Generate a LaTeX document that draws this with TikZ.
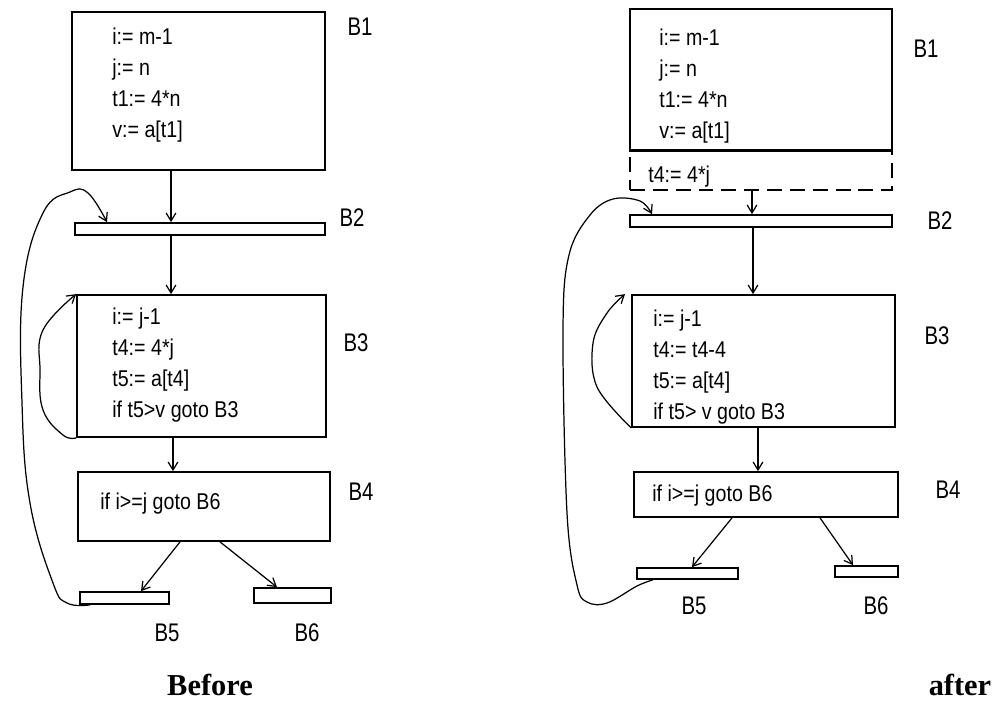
\documentclass[tikz,border=0pt]{standalone}
\usepackage{fontspec}
\setmainfont{Liberation Serif}
\newfontfamily\codefont[FakeStretch=0.86]{Liberation Sans}
\newfontfamily\blockfont[FakeStretch=0.8]{Liberation Sans}
\usetikzlibrary{arrows.meta, fit, calc}

\tikzset{
  blk/.style={draw, inner sep=0pt, line width=1pt},
  code/.style={anchor=north west, inner sep=0pt, align=left, font=\codefont\fontsize{13}{17.5}\selectfont},
  blkname/.style={inner sep=0pt, font=\blockfont\fontsize{14.5}{16}\selectfont},
  caption/.style={inner sep=0pt, font=\bfseries\fontsize{17.3}{20}\selectfont},
  edge/.style={line width=0.7pt, ->},
  >={Straight Barb[length=4.5pt, width=5.5pt]}
}

\begin{document}
\begin{tikzpicture}[x=0.02cm, y=-0.02cm]
\useasboundingbox (0,0) rectangle (994,700);

% before
\node[blk, fit={(72,12) (325,170)}] (b1) {};
\node[blk, fit={(75,223) (325,235)}] (b2) {};
\node[blk, fit={(77,295) (326,437)}] (b3) {};
\node[blk, fit={(78,472) (330,541)}] (b4) {};
\node[blk, fit={(80,592) (169,604)}] (b5) {};
\node[blk, fit={(254,588) (331,603)}] (b6) {};

\node[code] (b1txt) at (112,28) {i:= m-1\\j:= n\\t1:= 4*n\\v:= a[t1]};
\node[code] (b3txt) at (112,308) {i:= j-1\\t4:= 4*j\\t5:= a[t4]\\if t5>v goto B3};
\node[code] (b4txt) at (100,493) {if i>=j goto B6};

\node[blkname] (n1) at (360,27) {B1};
\node[blkname] (n2) at (352,218) {B2};
\node[blkname] (n3) at (356,343) {B3};
\node[blkname] (n4) at (361,492) {B4};
\node[blkname] (n5) at (167,633) {B5};
\node[blkname] (n6) at (307,633) {B6};

\draw[edge] (171,0 |- b1.south) -- (171,0 |- b2.north);
\draw[edge] (171,0 |- b2.south) -- (171,0 |- b3.north);
\draw[edge] (173,0 |- b3.south) -- (173,0 |- b4.north);
\draw[edge] (180,0 |- b4.south) -- (141,0 |- b5.north);
\draw[edge] (220,0 |- b4.south) -- (277,0 |- b6.north);
\draw[edge] plot[smooth, tension=.7] coordinates {(b3.south west) (63,435) (43,410) (40,370) (43,330) (b3.north west)};
\draw[edge] plot[smooth, tension=.7] coordinates {(90,0 |- b5.south) (67,603) (53,583) (30,503) (22,403) (23,287) (43,213) (70,192) (88,193) (107,0 |- b2.north)};

% after
\node[blk, fit={(630,9) (892,150)}] (b1r) {};
\node[draw, dash pattern=on 8.5pt off 4.5pt, inner sep=0pt, line width=1pt, fit={(630,150) (892,190)}] (pre) {};
\draw[line width=1.8pt] (b1r.south west) -- (b1r.south east);
\node[blk, fit={(630,215) (892,227)}] (b2r) {};
\node[blk, fit={(632,295) (895,427)}] (b3r) {};
\node[blk, fit={(634,472) (898,517)}] (b4r) {};
\node[blk, fit={(637,568) (738,579)}] (b5r) {};
\node[blk, fit={(835,566) (898,577)}] (b6r) {};

\node[code] (b1rtxt) at (659,29) {i:= m-1\\j:= n\\t1:= 4*n\\v:= a[t1]};
\node[code] (pretxt) at (648,166) {t4:= 4*j};
\node[code] (b3rtxt) at (653,310) {i:= j-1\\t4:= t4-4\\t5:= a[t4]\\if t5> v goto B3};
\node[code] (b4rtxt) at (652,485) {if i>=j goto B6};

\node[blkname] (n1r) at (926,49) {B1};
\node[blkname] (n2r) at (940,221) {B2};
\node[blkname] (n3r) at (937,336) {B3};
\node[blkname] (n4r) at (948,490) {B4};
\node[blkname] (n5r) at (694,606) {B5};
\node[blkname] (n6r) at (876,606) {B6};

\draw[edge] (752,0 |- pre.south) -- (752,0 |- b2r.north);
\draw[edge] (753,0 |- b2r.south) -- (753,0 |- b3r.north);
\draw[edge] (758,0 |- b3r.south) -- (758,0 |- b4r.north);
\draw[edge] (732,0 |- b4r.south) -- (692,0 |- b5r.north);
\draw[edge] (820,0 |- b4r.south) -- (853,0 |- b6r.north);
\draw[edge] plot[smooth, tension=.6] coordinates {(b3r.south west) (597,387) (593,343) (607,313) (625,0 |- b3r.north)};
\draw[edge] plot[smooth, tension=.6] coordinates {(653,0 |- b5r.south) (637,586) (607,603) (587,602) (577,585) (567,513) (563,330) (569,255) (590,215) (613,199) (640,201) (652,0 |- b2r.north)};

\node[caption] (before) at (210,685) {Before};
\node[caption] (after) at (960,685) {after};
\end{tikzpicture}
\end{document}
